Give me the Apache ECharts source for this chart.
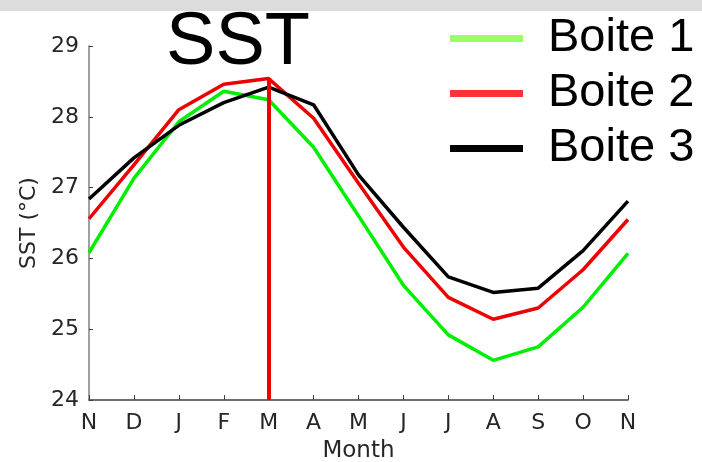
<!DOCTYPE html>
<html lang="en">
<head>
    <meta charset="UTF-8">
    <title>SST</title>
    <script src="https://cdn.jsdelivr.net/npm/echarts@6/dist/echarts.min.js"></script>
    <style>
        html, body { margin: 0; padding: 0; background: #fff; }
        #main { width: 702px; height: 462px; }
    </style>
</head>
<body>
<div id="main"></div>
<script>
    // mois (nov -> nov)
    var months = ['N', 'D', 'J', 'F', 'M', 'A', 'M', 'J', 'J', 'A', 'S', 'O', 'N'];
    var yTicks = [24, 25, 26, 27, 28, 29];

    var boite1 = [26.08, 27.13, 27.93, 28.36, 28.24, 27.57, 26.6, 25.62, 24.92, 24.56, 24.75, 25.31, 26.07];
    var boite2 = [26.56, 27.32, 28.10, 28.46, 28.54, 27.98, 27.06, 26.16, 25.45, 25.14, 25.30, 25.84, 26.55];
    var boite3 = [26.84, 27.42, 27.88, 28.20, 28.42, 28.17, 27.18, 26.44, 25.74, 25.52, 25.58, 26.11, 26.81];

    // trait vertical sur le mois de mars
    var markMonth = 4;

    function pts(arr) {
        return arr.map(function (v, i) { return [i, v]; });
    }

    var myChart = echarts.init(document.getElementById('main'));

    var option = {
        animation: false,
        backgroundColor: '#fff',
        graphic: [{
            type: 'rect',
            left: 0, top: 0,
            shape: { width: 702, height: 11 },
            style: { fill: '#dcdcdc' }
        }],
        title: {
            text: 'SST',
            left: 233,
            top: 2,
            textAlign: 'center',
            textStyle: {
                fontFamily: 'Liberation Sans',
                fontSize: 74,
                fontWeight: 'normal',
                color: '#000'
            }
        },
        legend: {
            orient: 'vertical',
            left: 445,
            top: 6,
            itemWidth: 73,
            itemHeight: 7,
            itemGap: 0,
            icon: 'rect',
            textStyle: {
                fontFamily: 'Liberation Sans',
                fontSize: 47,
                color: '#000',
                lineHeight: 55,
                padding: [0, 0, 0, 20]
            },
            data: [
                { name: 'Boite 1', itemStyle: { color: '#99ff66' } },
                { name: 'Boite 2', itemStyle: { color: '#ff3333' } },
                { name: 'Boite 3', itemStyle: { color: '#000000' } }
            ]
        },
        grid: {
            left: 89,
            right: 74,
            top: 46,
            bottom: 62,
            containLabel: false,
            outerBoundsMode: 'none'
        },
        xAxis: {
            type: 'value',
            min: 0,
            max: months.length - 1,
            interval: 1,
            name: 'Month',
            nameLocation: 'middle',
            nameGap: 40,
            nameTextStyle: { fontFamily: 'DejaVu Sans', fontSize: 23, color: '#262626' },
            axisLine: { show: true, lineStyle: { color: '#404040', width: 1.5 } },
            axisTick: { show: true, inside: true, length: 5, lineStyle: { color: '#404040' } },
            axisLabel: {
                fontFamily: 'DejaVu Sans',
                fontSize: 22,
                color: '#262626',
                margin: 12,
                formatter: function (v) { return months[v]; }
            },
            splitLine: { show: false }
        },
        yAxis: {
            type: 'value',
            min: yTicks[0],
            max: yTicks[yTicks.length - 1],
            interval: 1,
            name: 'SST (°C)',
            nameLocation: 'middle',
            nameGap: 46,
            nameTextStyle: { fontFamily: 'DejaVu Sans', fontSize: 22, color: '#262626' },
            axisLine: { show: true, lineStyle: { color: '#808080', width: 1.5 } },
            axisTick: { show: true, inside: true, length: 4, lineStyle: { color: '#404040' } },
            axisLabel: {
                fontFamily: 'DejaVu Sans',
                fontSize: 22,
                color: '#262626',
                margin: 10
            },
            splitLine: { show: false }
        },
        series: [
            {
                name: 'Boite 1',
                type: 'line',
                data: pts(boite1),
                symbol: 'none',
                lineStyle: { color: '#00ee00', width: 3.5 },
                itemStyle: { color: '#00ee00' }
            },
            {
                name: 'Boite 2',
                type: 'line',
                data: pts(boite2),
                symbol: 'none',
                lineStyle: { color: '#ee0000', width: 3.5 },
                itemStyle: { color: '#ee0000' },
                markLine: {
                    symbol: 'none',
                    silent: true,
                    label: { show: false },
                    lineStyle: { color: '#ee0000', width: 4, type: 'solid' },
                    data: [[
                        { coord: [markMonth, yTicks[0]] },
                        { coord: [markMonth, boite2[markMonth]] }
                    ]]
                }
            },
            {
                name: 'Boite 3',
                type: 'line',
                data: pts(boite3),
                symbol: 'none',
                lineStyle: { color: '#000000', width: 3.5 },
                itemStyle: { color: '#000000' }
            }
        ]
    };

    myChart.setOption(option);
</script>
</body>
</html>
